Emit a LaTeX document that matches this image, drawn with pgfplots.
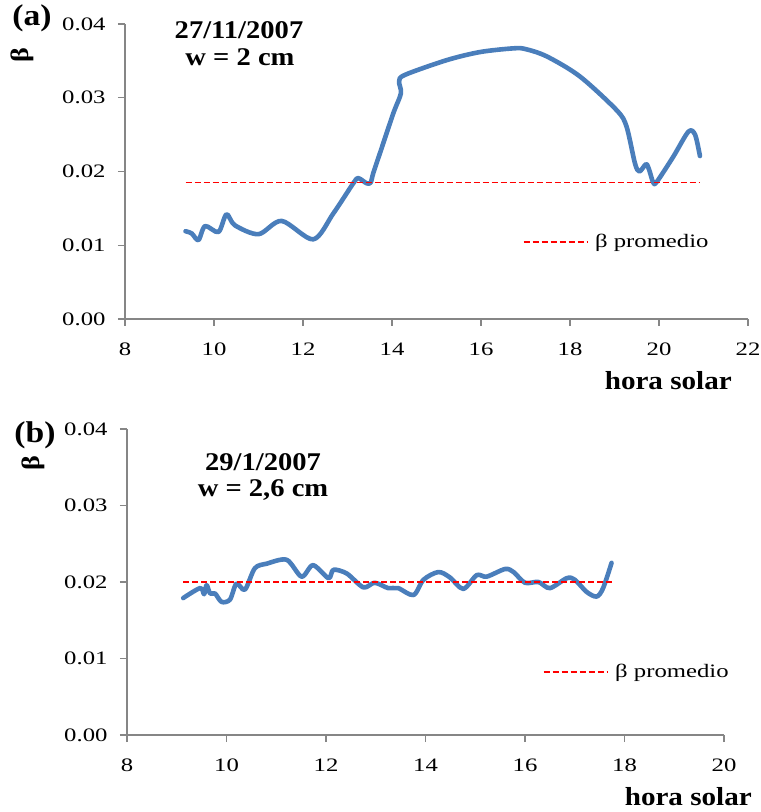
\documentclass[border=0pt]{standalone}
\usepackage{fontspec}
\setmainfont{Liberation Serif}[FakeStretch=1.12]
\newfontfamily\tickfont{Liberation Serif}[FakeStretch=1.3]
\usepackage{pgfplots}
\pgfplotsset{compat=1.18}
\definecolor{exblue}{RGB}{74,126,187}
\definecolor{axgray}{RGB}{134,134,134}
\pgfplotsset{
  mystyle/.style={
    scale only axis,
    axis lines=left,
    axis line style={-, draw=axgray, line width=1.2pt},
    tick style={draw=axgray, line width=1.2pt},
    tick align=outside,
    major tick length=7pt,
    ymin=0, ymax=0.04,
    ytick={0,0.01,0.02,0.03,0.04},
    yticklabel style={/pgf/number format/.cd, fixed, fixed zerofill, precision=2, /tikz/.cd, font=\tickfont\fontsize{19}{20}\selectfont, xshift=-9pt},
    xticklabel style={font=\tickfont\fontsize{19}{20}\selectfont, yshift=-13pt},
    /pgf/number format/assume math mode=true,
    scaled y ticks=false,
    clip=false,
    legend style={draw=none, fill=none, inner sep=0pt, font=\tickfont\fontsize{19}{21}\selectfont},
    legend image code/.code={\draw[red, line width=1.1pt, dash pattern=on 6pt off 3pt] (0pt,0pt) -- (64pt,0pt);},
  },
  blueline/.style={exblue, line width=4.6pt, smooth, tension=0.5, no marks, line join=round, line cap=round},
  redline/.style={red, line width=1.1pt, dash pattern=on 6pt off 3pt, no marks},
}
\begin{document}
\begin{tikzpicture}
\path[use as bounding box] (0pt,0pt) rectangle (761pt,812pt);
% ---------- (a) ----------
\begin{axis}[mystyle,
  at={(125pt,493pt)}, anchor=south west,
  width=623pt, height=295pt,
  xmin=8, xmax=22, xtick={8,10,...,22},
  legend style={at={(axis cs:16.94,0.01044)}, anchor=west},
]
\addplot[blueline, forget plot] coordinates {
(9.36,0.0119) (9.5,0.0116) (9.65,0.0107) (9.8,0.0126) (10.1,0.0118) (10.28,0.0142) (10.47,0.0127) (11.0,0.0115) (11.52,0.0133) (12.23,0.0108) (12.68,0.0143) (13.13,0.0184) (13.24,0.0191) (13.43,0.0184) (13.52,0.0185) (13.58,0.0198) (13.73,0.0225) (14.03,0.0279) (14.2,0.0306) (14.16,0.0322) (14.29,0.0331) (15.23,0.0351) (15.98,0.0362) (16.73,0.0367) (17.0,0.0366) (17.48,0.0356) (18.22,0.0329) (19.05,0.0283) (19.27,0.0261) (19.46,0.0211) (19.56,0.0200) (19.71,0.0210) (19.78,0.0202) (19.87,0.0185) (19.95,0.0186) (20.32,0.0220) (20.66,0.0254) (20.81,0.0250) (20.92,0.0221)
};
\addplot[redline] coordinates {(9.36,0.01853) (20.92,0.01853)};
\addlegendentry{\hspace{5pt}β promedio}
\end{axis}
% ---------- (b) ----------
\begin{axis}[mystyle,
  at={(127pt,77pt)}, anchor=south west,
  width=597pt, height=306pt,
  xmin=8, xmax=20, xtick={8,10,...,20},
  legend style={at={(axis cs:16.36,0.00824)}, anchor=west},
]
\addplot[blueline, forget plot] coordinates {
(9.13,0.0179) (9.47,0.0192) (9.55,0.0184) (9.6,0.0196) (9.67,0.0185) (9.77,0.0185) (9.9,0.0174) (10.07,0.0177) (10.2,0.0198) (10.37,0.0190) (10.57,0.0218) (10.81,0.0224) (11.21,0.0229) (11.51,0.0207) (11.74,0.0222) (12.05,0.0205) (12.15,0.0216) (12.42,0.0211) (12.75,0.0193) (12.98,0.0199) (13.25,0.0192) (13.45,0.0192) (13.76,0.0183) (13.96,0.0203) (14.26,0.0213) (14.49,0.0206) (14.76,0.0191) (15.03,0.0209) (15.23,0.0207) (15.6,0.0217) (15.77,0.0213) (16.0,0.0199) (16.27,0.0200) (16.5,0.0192) (16.84,0.0205) (17.0,0.0203) (17.24,0.0187) (17.44,0.0181) (17.57,0.0192) (17.74,0.0225)
};
\addplot[redline] coordinates {(9.13,0.0200) (17.74,0.0200)};
\addlegendentry{\hspace{5pt}β promedio}
\end{axis}
% ---------- texts ----------
\node[font=\fontsize{30}{32}\selectfont\bfseries] at (32pt,794pt) {(a)};
\node[font=\fontsize{25}{27}\selectfont\bfseries, rotate=90] at (22pt,757pt) {β};
\node[font=\fontsize{25.5}{27}\selectfont\bfseries] at (239pt,782pt) {27/11/2007};
\node[font=\fontsize{25.5}{27}\selectfont\bfseries] at (240pt,755pt) {w = 2 cm};
\node[font=\fontsize{26}{28}\selectfont\bfseries, anchor=east, inner sep=0pt] at (732pt,431pt) {hora solar};
\node[font=\fontsize{30}{32}\selectfont\bfseries] at (35pt,377pt) {(b)};
\node[font=\fontsize{25}{27}\selectfont\bfseries, rotate=90] at (33pt,349pt) {β};
\node[font=\fontsize{25.5}{27}\selectfont\bfseries] at (263pt,350pt) {29/1/2007};
\node[font=\fontsize{25.5}{27}\selectfont\bfseries] at (263pt,322pt) {w = 2,6 cm};
\node[font=\fontsize{26}{28}\selectfont\bfseries, anchor=east, inner sep=0pt] at (752pt,15pt) {hora solar};
\end{tikzpicture}
\end{document}
